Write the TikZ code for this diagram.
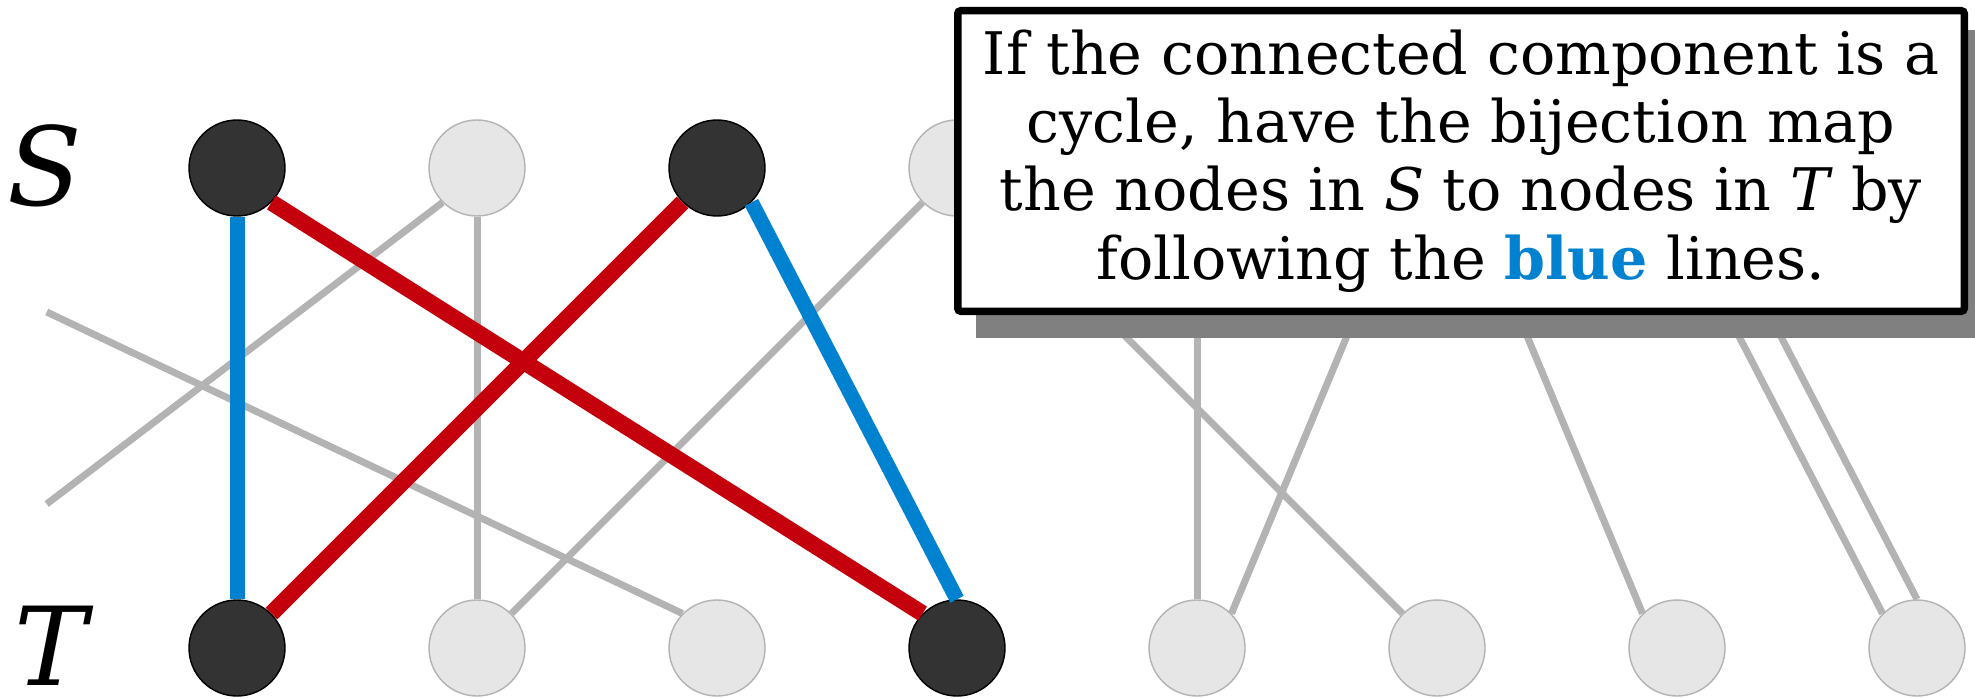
\documentclass[tikz,border=0pt]{standalone}
\usepackage{fontspec}
\setmainfont{DejaVu Serif}
\usetikzlibrary{positioning}
\definecolor{edgegray}{HTML}{B3B3B3}
\definecolor{nodegray}{HTML}{E6E6E6}
\definecolor{nodedark}{HTML}{333333}
\definecolor{cycleblue}{HTML}{0082D0}
\definecolor{cyclered}{HTML}{C4000C}
\definecolor{shadowgray}{HTML}{808080}
\tikzset{vertex/.style={circle, inner sep=0pt, minimum size=0.96cm, line width=0.4pt}}
\tikzset{lightvertex/.style={vertex, fill=nodegray, draw=edgegray}}
\tikzset{darkvertex/.style={vertex, fill=nodedark, draw=black}}
\tikzset{faint/.style={draw=edgegray, line width=0.07cm}}
\tikzset{matchblue/.style={draw=cycleblue, line width=0.15cm}}
\tikzset{matchred/.style={draw=cyclered, line width=0.165cm}}
\tikzset{setlabel/.style={inner sep=0pt, font=\fontsize{31}{31}\selectfont\itshape}}

\begin{document}
\begin{tikzpicture}
  \useasboundingbox (0,0) rectangle (19.75,6.98);

  \foreach \i/\look in {1/darkvertex,2/lightvertex,3/darkvertex,4/lightvertex,
                        5/lightvertex,6/lightvertex,7/lightvertex,8/lightvertex}{
    \node[\look] (s\i) at ({2.37+2.4*(\i-1)},5.30) {};
  };
  \foreach \i/\look in {1/darkvertex,2/lightvertex,3/lightvertex,4/darkvertex,
                        5/lightvertex,6/lightvertex,7/lightvertex,8/lightvertex}{
    \node[\look] (t\i) at ({2.37+2.4*(\i-1)},0.50) {};
  };

  \node[setlabel] (slabel) at (0.45,5.32) {S};
  \node[setlabel] (tlabel) at (0.51,0.52) {T};

  % edges leaving the picture on the left
  \coordinate (wrapa) at (0.467,3.86);
  \coordinate (wrapb) at (0.467,1.94);
  \draw[faint] (wrapa) -- (t3.north west);
  \draw[faint] (wrapb) -- (s2.south west);

  \draw[faint] (s2.south) -- (t2.north);
  \draw[faint] (s4.south west) -- (t2.north east);
  \draw[faint] (s4.south east) -- (t6.north west);
  \draw[faint] (s5.south) -- (t5.north);
  \draw[faint] (s6.south west) -- (t5.north east);
  \draw[faint] (s6.south east) -- (t7.north west);
  \draw[faint] (s7.south) -- (t8.north west);
  \draw[faint] (s7.south east) -- (t8.north);

  % the cycle
  \draw[matchblue] (s1.south) -- (t1.north);
  \draw[matchblue] (s3.south east) -- (t4.north);
  \draw[matchred] (s1.south east) -- (t4.north west);
  \draw[matchred] (s3.south west) -- (t1.north east);

  \node[fill=shadowgray, minimum width=10.14cm, minimum height=3.08cm, inner sep=0pt]
    (noteshadow) at (14.83,5.14) {};
  \node[draw=black, fill=white, line width=0.075cm, rounded corners=0.03cm,
        minimum width=10.065cm, minimum height=3.005cm, inner sep=0pt, align=center,
        font=\fontsize{16.7}{19.4}\selectfont]
    (note) at (14.61,5.37)
    {If the connected component is a\\
     cycle, have the bijection map\\
     the nodes in \textit{S} to nodes in \textit{T} by\\
     following the \textbf{\textcolor{cycleblue}{blue}} lines.};
\end{tikzpicture}
\end{document}
